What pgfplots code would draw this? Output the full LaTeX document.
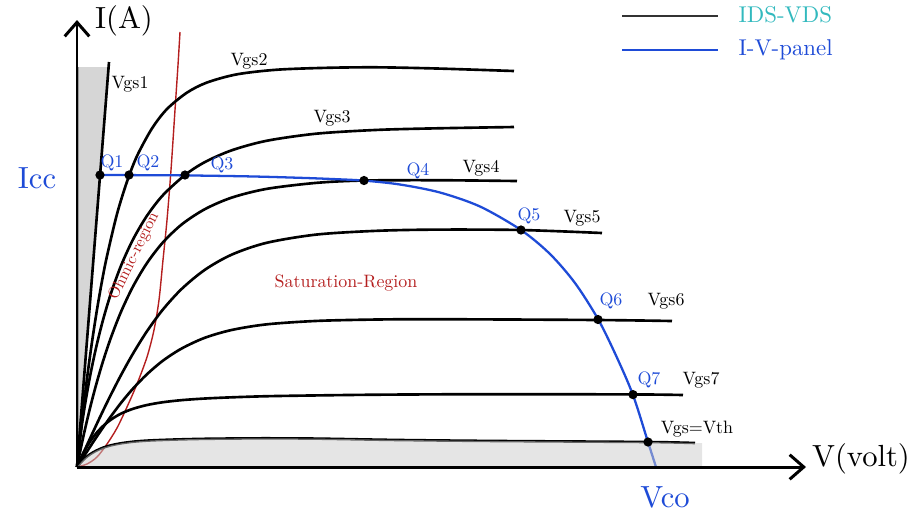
\documentclass[border=0pt]{standalone}
\usepackage{graphicx}
\usepackage{pgfplots}
\pgfplotsset{compat=1.18}
\usetikzlibrary{arrows.meta}
\definecolor{cblue}{RGB}{30,75,215}
\definecolor{cred}{RGB}{180,30,30}
\definecolor{cteal}{RGB}{50,185,190}
\newcommand{\fbig}[1]{\scalebox{0.87}{#1}}
\newcommand{\fsm}[1]{\scalebox{0.51}{#1}}
\newcommand{\fleg}[1]{\scalebox{0.65}{#1}}
\begin{document}
\begin{tikzpicture}
\begin{axis}[scale only axis, width=9.13cm, height=5.18cm,
  xmin=0, xmax=913, ymin=0, ymax=518, y dir=reverse,
  axis lines=none, clip=false]
% left grey strip
\addplot[fill=black!16, draw=none] coordinates {(77,67) (108,67) (77,467)} -- cycle;
\addplot[draw=black!40, line width=0.6pt] coordinates {(78,67) (78,467)};
% ohmic boundary
\addplot[cred, line width=0.4pt, smooth] coordinates {(77,467) (87,464) (97,457) (107,444) (117,428) (127,407) (137,384) (147,357) (154,330) (159,300) (163,260) (167,220) (171,170) (175,110) (178,65) (180,32)};
% characteristic curves
\addplot[black, line width=0.75pt] coordinates {(77,467) (109,62)};
\addplot[black, line width=0.75pt, smooth] coordinates {(77,467) (82,420) (87,378.5) (92,342) (97,309.6) (102,281) (107,256) (117,214) (127,181.6) (137,156) (152,128.4) (167,109) (187,92.6) (207,82.5) (237,74.3) (277,69.7) (327,67.8) (377,67.3) (437,68.5) (514,71)};
\addplot[black, line width=0.75pt, smooth] coordinates {(77,467) (81,431.4) (85,404.6) (90,376.5) (96,348) (103,320) (111,293.2) (121,265.7) (133,239.5) (147,215.7) (163,195.1) (185,175) (205,162) (232,150.2) (267,140.7) (317,133.6) (377,129.9) (437,128.3) (514,127)};
\addplot[black, line width=0.75pt, smooth] coordinates {(77,467) (81,447.4) (85,429.2) (90,408.1) (96,385.2) (103,361.3) (111,337.4) (121,311.8) (133,286.5) (147,263) (163,242.3) (182,224.2) (205,209.1) (232,197.5) (267,188.8) (317,182.8) (364,180.5) (437,180.2) (517,181)};
\addplot[black, line width=0.75pt, smooth] coordinates {(77,467) (81,458.2) (85,449.4) (90,438.5) (96,425.6) (103,410.8) (111,394.5) (121,375.1) (133,353.6) (147,331.2) (163,309.4) (182,288.6) (205,269.7) (232,254.5) (267,242.7) (317,234.5) (377,230.8) (437,229.6) (521,230) (602,233)};
\addplot[black, line width=0.75pt, smooth] coordinates {(77,467) (81,460.8) (85,454.6) (90,446.9) (96,437.8) (103,427.5) (111,416.2) (121,402.9) (133,388.6) (147,374.2) (163,360.6) (182,348.3) (205,337.7) (232,329.9) (267,324.3) (317,320.9) (377,319.5) (437,319.2) (598,320) (672,321)};
\addplot[black, line width=0.75pt, smooth] coordinates {(77,467) (81,457.8) (85,450) (90,441.7) (96,433.5) (103,426.1) (111,419.6) (121,413.6) (133,408.8) (147,405) (163,402.2) (182,400.1) (205,398.5) (232,397.3) (267,396.2) (317,395.4) (377,394.7) (477,394.2) (633,394.4) (683,395)};
\addplot[black, line width=0.75pt, smooth] coordinates {(77,467) (81,462.2) (85,458.2) (90,454.3) (96,450.8) (103,447.7) (111,445.3) (121,443.3) (133,441.7) (147,440.6) (163,439.9) (182,439.3) (205,438.8) (232,438.5) (267,438.3) (317,438.6) (400,440) (500,441) (648,442) (695,443)};
% I-V panel
\addplot[cblue, line width=0.65pt, smooth] coordinates {(100,175) (129,175.1) (185,175.4) (250,176.4) (300,177.8) (332,179) (364,180.6) (400,184.5) (440,192.5) (480,206.5) (521,230) (550,254) (575,283) (598,319) (616,355.5) (633,395) (648,442) (656,467)};
% operating points
\addplot[only marks, mark=*, mark size=1.1pt, black] coordinates {(100,175) (129,175) (185,175) (364,180.5) (521,230) (598,319.5) (633,394.6) (648,442)};
% bottom grey region (translucent, over the curves)
\addplot[fill=black!20, fill opacity=0.5, draw=none] coordinates {(77,467) (81,462.2) (85,458.2) (90,454.3) (96,450.8) (103,447.7) (111,445.3) (121,443.3) (133,441.7) (147,440.6) (163,439.9) (182,439.3) (205,438.8) (232,438.5) (267,438.3) (317,438.6) (400,440) (500,441) (648,442) (695,443) (702,443) (702,467)} -- cycle;
% axes
\addplot[black, line width=0.85pt, -{Straight Barb[length=4pt,width=7pt]}] coordinates {(77,467) (806,467)};
\addplot[black, line width=0.85pt, -{Straight Barb[length=4pt,width=7pt]}] coordinates {(77,467) (77,20)};
% legend
\addplot[black!80, line width=0.8pt] coordinates {(622,16) (718,16)};
\addplot[cblue, line width=0.6pt] coordinates {(622,50) (718,50)};
\node[anchor=west, text=cteal, inner sep=0pt] at (axis cs:738,15) {\fleg{IDS-VDS}};
\node[anchor=west, text=cblue, inner sep=0pt] at (axis cs:738,50) {\fleg{I-V-panel}};
% labels
\node[inner sep=0pt] at (axis cs:124,21) {\fbig{I(A)}};
\node[inner sep=0pt] at (axis cs:861,459) {\fbig{V(volt)}};
\node[text=cblue, inner sep=0pt] at (axis cs:37,178) {\fbig{Icc}};
\node[text=cblue, inner sep=0pt] at (axis cs:665,497) {\fbig{Vco}};
\node[inner sep=0pt] at (axis cs:130,84) {\fsm{Vgs1}};
\node[inner sep=0pt] at (axis cs:249,61) {\fsm{Vgs2}};
\node[inner sep=0pt] at (axis cs:332,118) {\fsm{Vgs3}};
\node[inner sep=0pt] at (axis cs:481,168) {\fsm{Vgs4}};
\node[inner sep=0pt] at (axis cs:582,218) {\fsm{Vgs5}};
\node[inner sep=0pt] at (axis cs:666,301) {\fsm{Vgs6}};
\node[inner sep=0pt] at (axis cs:701,380) {\fsm{Vgs7}};
\node[inner sep=0pt] at (axis cs:697,429) {\fsm{Vgs=Vth}};
\node[text=cblue, inner sep=0pt] at (axis cs:112,163) {\fsm{Q1}};
\node[text=cblue, inner sep=0pt] at (axis cs:148,163) {\fsm{Q2}};
\node[text=cblue, inner sep=0pt] at (axis cs:222,165) {\fsm{Q3}};
\node[text=cblue, inner sep=0pt] at (axis cs:418,171) {\fsm{Q4}};
\node[text=cblue, inner sep=0pt] at (axis cs:529,216) {\fsm{Q5}};
\node[text=cblue, inner sep=0pt] at (axis cs:611,301) {\fsm{Q6}};
\node[text=cblue, inner sep=0pt] at (axis cs:649,380) {\fsm{Q7}};
\node[text=cred, inner sep=0pt] at (axis cs:346,283) {\fsm{Saturation-Region}};
\node[text=cred, rotate=64, inner sep=0pt] at (axis cs:134,256) {\scalebox{0.46}{Ohmic-region}};
\end{axis}
\pgfresetboundingbox
\path[use as bounding box] (current axis.south west) rectangle (current axis.north east);
\end{tikzpicture}
\end{document}
